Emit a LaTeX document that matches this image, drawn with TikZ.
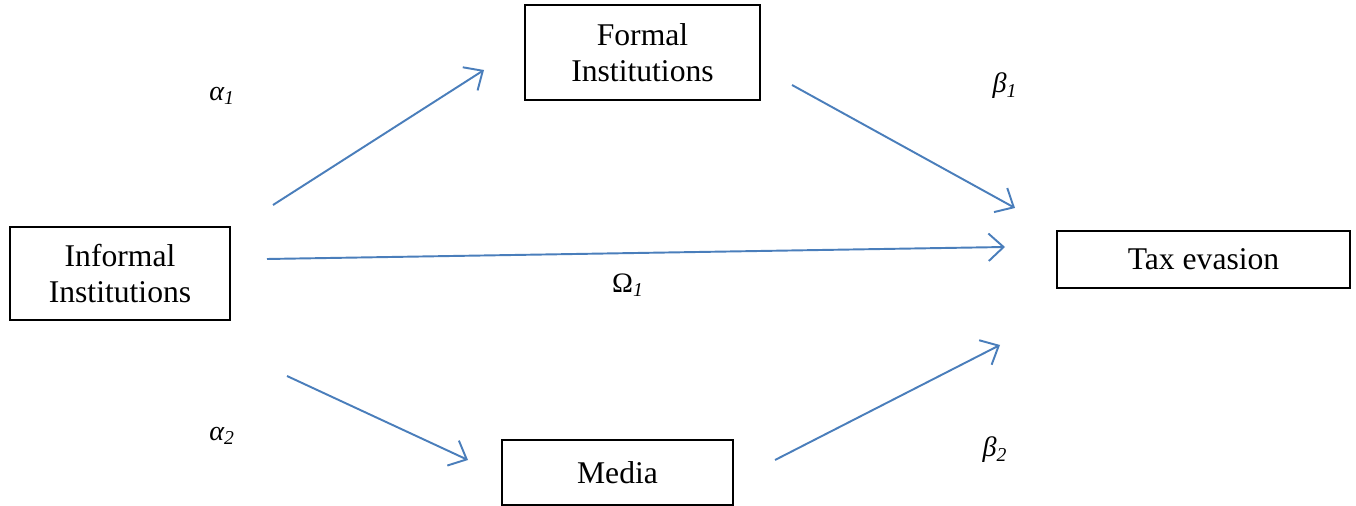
\documentclass[tikz,border=0pt]{standalone}
\usepackage{fontspec}
\setmainfont{Liberation Serif}
\usetikzlibrary{arrows.meta}
\definecolor{pathblue}{HTML}{4A7EBB}
\tikzset{
	box/.style={draw, thick, align=center, inner sep=0pt, font=\fontsize{18}{20.7}\selectfont},
	path/.style={pathblue, line width=1.1pt, -{Straight Barb[length=0.3cm, width=0.55cm, line width=1.1pt]}},
	coef/.style={font=\fontsize{16}{19}\selectfont\itshape},
}
\begin{document}
\begin{tikzpicture}[x=0.02cm, y=-0.02cm]
	\useasboundingbox (0,0) rectangle (1356,506);
	\node[box, minimum width=4.4cm, minimum height=1.86cm] (informal) at (120,273.5) {Informal\\Institutions};
	\node[box, minimum width=4.7cm, minimum height=1.9cm] (formal) at (642.5,52.5) {Formal\\Institutions};
	\node[box, minimum width=4.62cm, minimum height=1.3cm] (media) at (617.5,472.5) {Media};
	\node[box, minimum width=5.86cm, minimum height=1.14cm] (tax) at (1203.5,259.5) {Tax evasion};
	\coordinate (a1s) at (273,205);
	\coordinate (a1e) at (484,70);
	\coordinate (b1s) at (792,85);
	\coordinate (b1e) at (1015,208);
	\coordinate (os) at (267,259);
	\coordinate (oe) at (1005,247);
	\coordinate (a2s) at (287,376);
	\coordinate (a2e) at (468,460);
	\coordinate (b2s) at (775,460);
	\coordinate (b2e) at (1000,345);
	\draw[path] (a1s) -- (a1e);
	\draw[path] (b1s) -- (b1e);
	\draw[path] (os) -- (oe);
	\draw[path] (a2s) -- (a2e);
	\draw[path] (b2s) -- (b2e);
	\node[coef] (alpha1) at (222,96) {α\textsubscript{1}};
	\node[coef] (beta1) at (1005,86) {β\textsubscript{1}};
	\node[coef] (omega1) at (628,285) {\upshape Ω\textsubscript{\itshape 1}};
	\node[coef] (alpha2) at (222,436) {α\textsubscript{2}};
	\node[coef] (beta2) at (995,450) {β\textsubscript{2}};
\end{tikzpicture}
\end{document}
